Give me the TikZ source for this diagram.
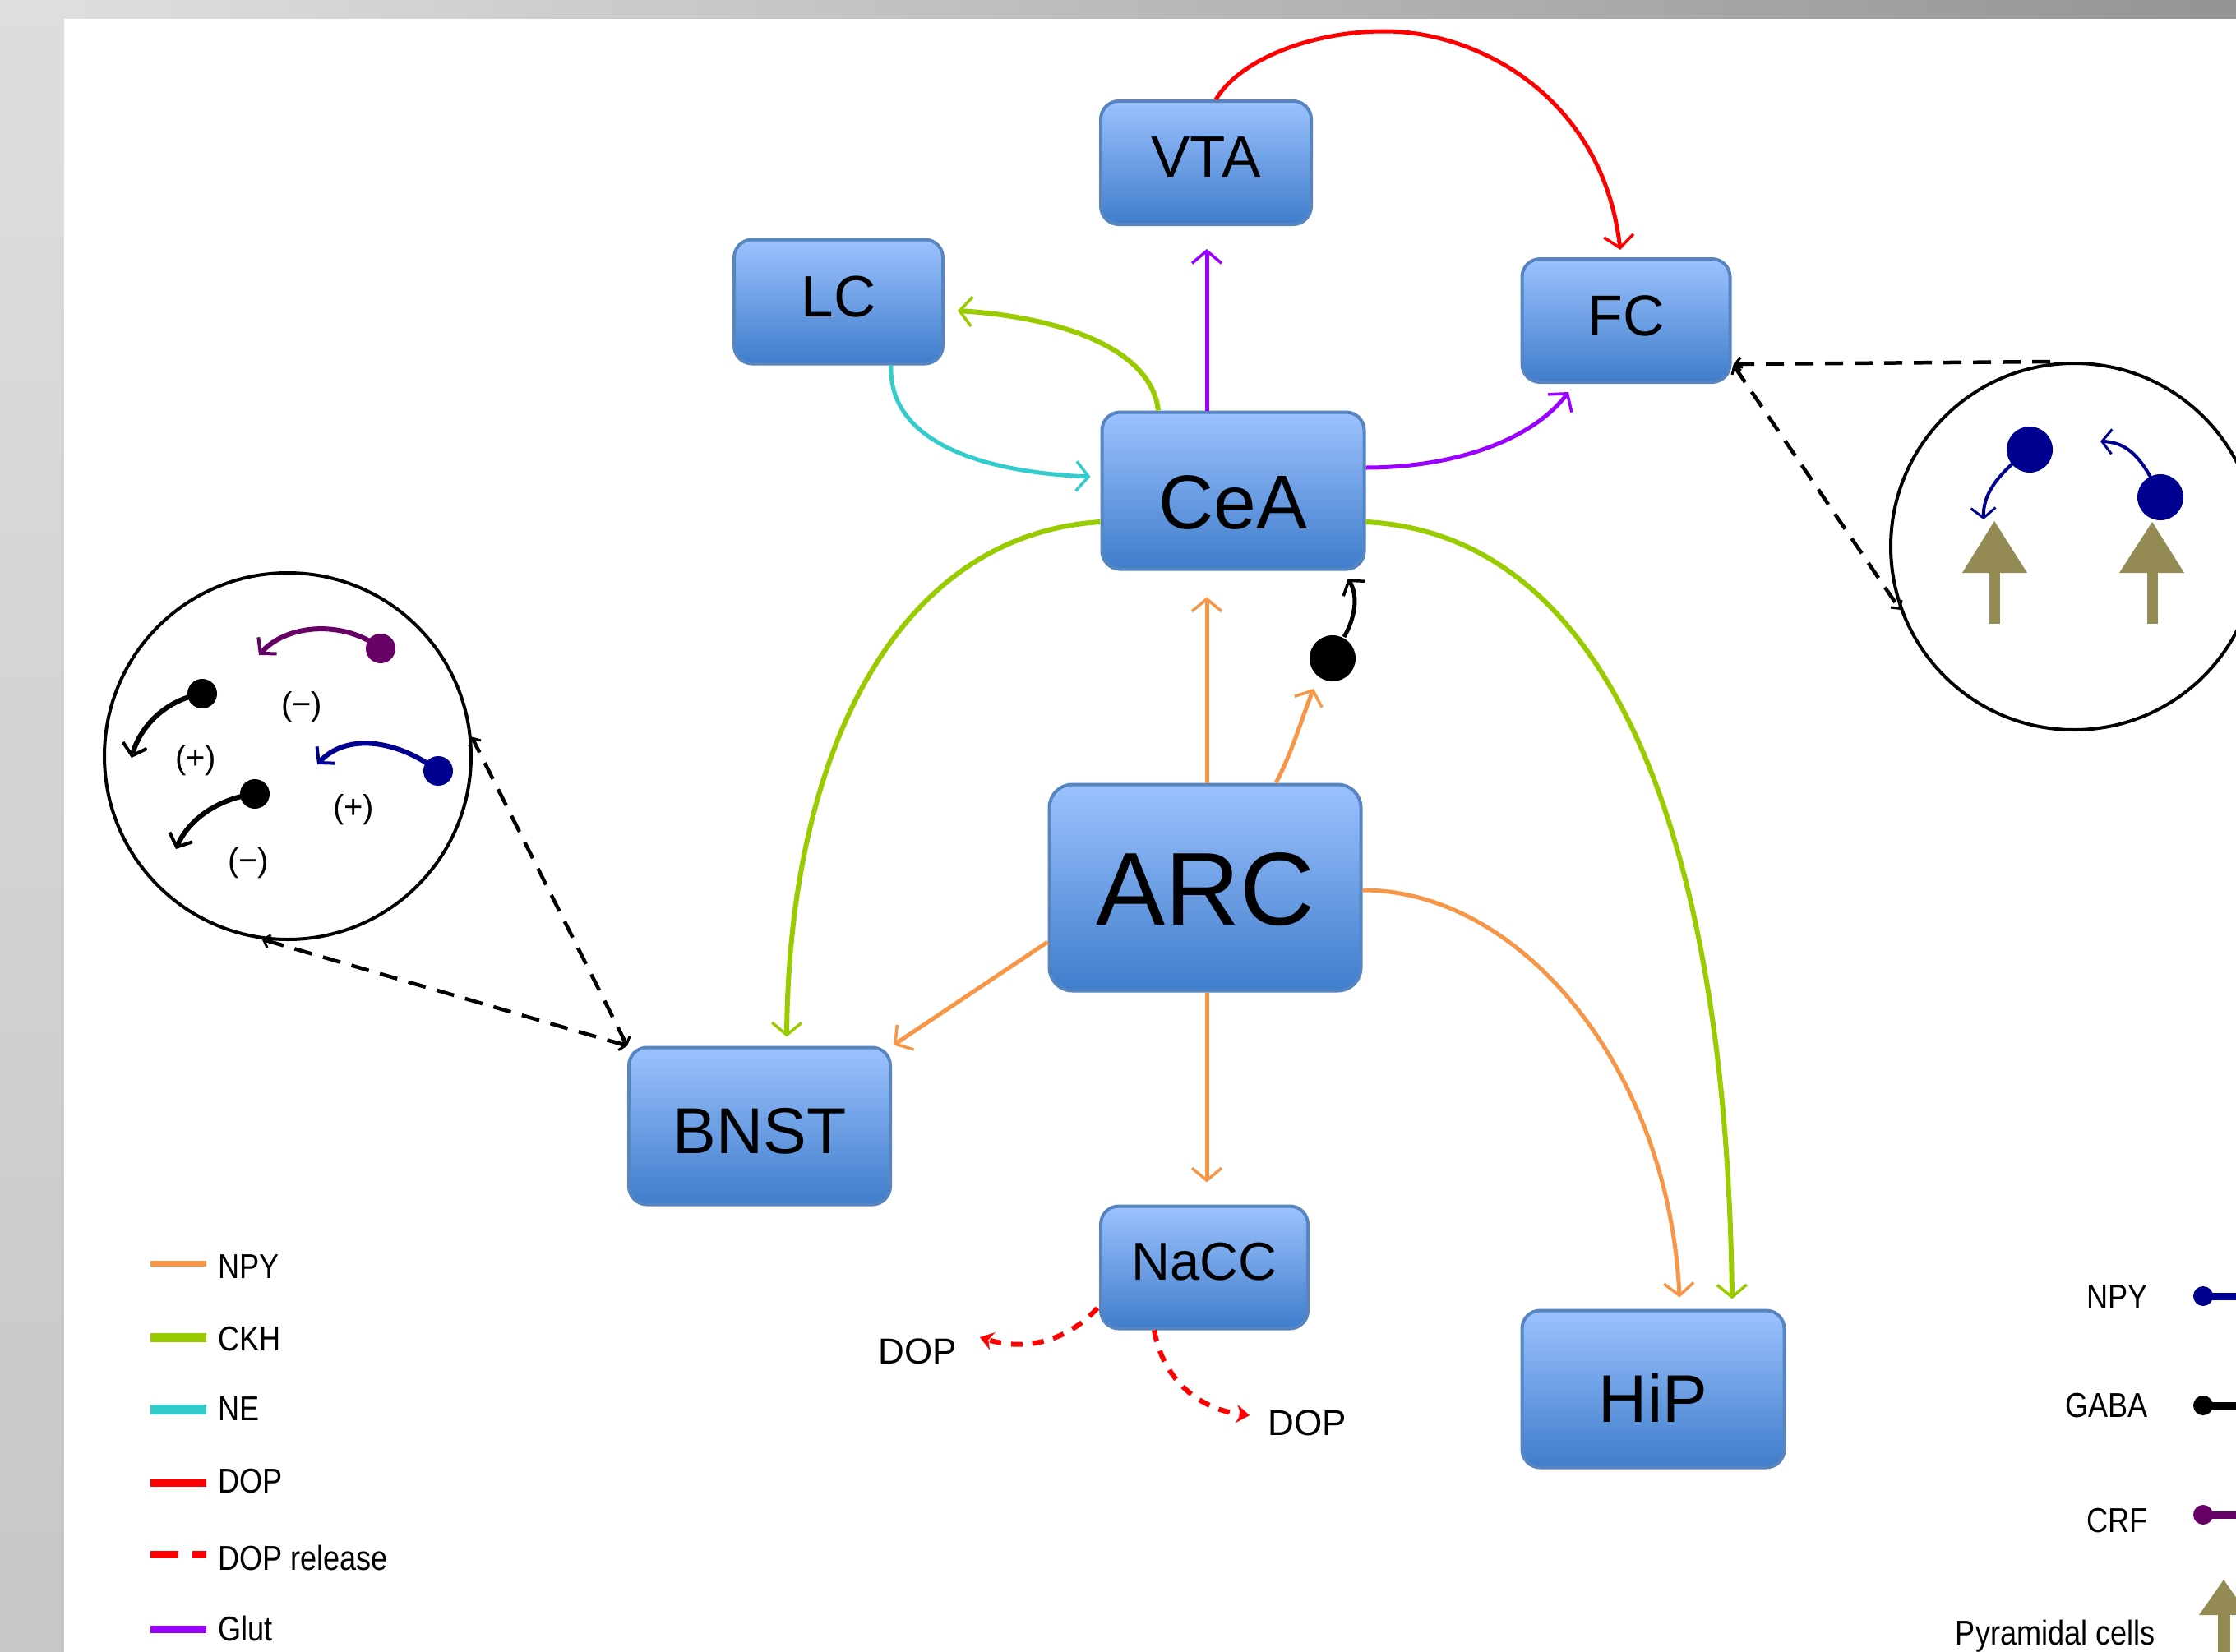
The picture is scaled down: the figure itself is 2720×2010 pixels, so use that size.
\documentclass[tikz,border=0pt]{standalone}
\usepackage{fontspec}
\setmainfont{Liberation Sans}
\newfontfamily\legfont[FakeStretch=0.86]{Liberation Sans}
\usetikzlibrary{arrows.meta,calc}
\definecolor{npycol}{HTML}{F79646}
\definecolor{ckhcol}{HTML}{99CC00}
\definecolor{necol}{HTML}{33CCCC}
\definecolor{dopcol}{HTML}{FF0000}
\definecolor{glutcol}{HTML}{9900FF}
\definecolor{npyblue}{HTML}{000090}
\definecolor{crfcol}{HTML}{660066}
\definecolor{pyrcol}{HTML}{948A54}
\definecolor{boxtop}{HTML}{9CC2FF}
\definecolor{boxbot}{HTML}{3F7DCB}
\definecolor{boxline}{HTML}{5685C2}
\newcommand\fsz[1]{\fontsize{#1}{#1}\selectfont}
\newcommand\lift[2]{\raisebox{#1}[\height][\depth]{#2}}
\begin{document}
\begin{tikzpicture}[x=1pt,y=-1pt,
  box/.style={draw=boxline, line width=4pt, rounded corners=22pt, top color=boxtop, bottom color=boxbot, inner sep=0pt, text=black},
  tipbig/.style={-{Straight Barb[length=15pt,width=36pt,line width=3.5pt]}},
  npyc/.style={draw=npycol, line width=5pt, tipbig},
  ckhc/.style={draw=ckhcol, line width=6pt, tipbig},
  nec/.style={draw=necol, line width=5pt, tipbig},
  dopc/.style={draw=dopcol, line width=5pt, tipbig},
  glutc/.style={draw=glutcol, line width=5pt, tipbig},
  gabac/.style={draw=black, line width=5pt, -{Straight Barb[length=12pt,width=32pt,line width=3.5pt]}},
  dopr/.style={draw=dopcol, line width=6pt, dash pattern=on 14pt off 12pt, -{Stealth[length=16pt,width=22pt]}},
  zoomln/.style={draw=black, line width=4.5pt, dash pattern=on 22pt off 14pt},
  smalltip/.style={{Straight Barb[length=7pt,width=16pt,line width=3pt]}-{Straight Barb[length=7pt,width=16pt,line width=3pt]}},
  mini/.style={line width=6pt, -{Straight Barb[length=13pt,width=30pt,line width=4pt]}},
  minir/.style={line width=4pt, draw=npyblue, -{Straight Barb[length=12pt,width=30pt,line width=3pt]}},
  dotn/.style={circle, inner sep=0pt, minimum size=36pt},
  leg/.style={inner sep=0pt, font=\legfont\fsz{42}},
  sign/.style={inner sep=0pt, font=\fsz{40}}]
\useasboundingbox (0,0) rectangle (2720,2010);
\clip (0,0) rectangle (2720,2010);
% background frame
\fill[left color=black!12, right color=black!42] (0,0) rectangle (2720,23);
\fill[top color=black!13, bottom color=black!22] (0,0) rectangle (78,2010);
\fill[white] (78,23) rectangle (2720,2010);

% boxes
\node[box, minimum width=256, minimum height=150, font=\fsz{71}] (VTA) at (1467,198) {\lift{7pt}{VTA}};
\node[box, minimum width=254, minimum height=151, font=\fsz{71}] (LC) at (1020,367) {\lift{6pt}{LC}};
\node[box, minimum width=253, minimum height=150, font=\fsz{70}] (FC) at (1978,390) {\lift{6pt}{FC}};
\node[box, minimum width=319, minimum height=191, font=\fsz{93}] (CeA) at (1500,597) {\lift{-14pt}{CeA}};
\node[box, minimum width=379, minimum height=251, rounded corners=28pt, font=\fsz{126}] (ARC) at (1466,1080) {\lift{-2pt}{ARC}};
\node[box, minimum width=318, minimum height=191, font=\fsz{79}] (BNST) at (924,1370) {\lift{-6pt}{BNST}};
\node[box, minimum width=252, minimum height=149, font=\fsz{65}] (NaCC) at (1465,1542) {\lift{7pt}{NaCC}};
\node[box, minimum width=319, minimum height=191, font=\fsz{82}] (HiP) at (2011,1690) {\lift{-11pt}{HiP}};

\node[circle, fill=black, inner sep=0pt, minimum size=56pt] (gdot) at (1621,801) {};
\node[inner sep=0pt, font=\fsz{44}] (DOPL) at (1116,1644) {DOP};
\node[inner sep=0pt, font=\fsz{44}] (DOPR) at (1590,1731) {DOP};

% connectors
\draw[dopc] ($(VTA.north)+(12,0)$) .. controls (1510,70) and (1600,38) .. (1684,38)
  .. controls (1800,38) and (1950,120) .. ($(FC.north)+(-7,-9)$);
\draw[glutc] ($(CeA.north)+(-32,0)$) -- ($(VTA.south)+(1,28)$);
\draw[ckhc] ($(CeA.north)+(-91,0)$) .. controls (1400,420) and (1280,385) .. ($(LC.east)+(16,11)$);
\draw[nec] ($(LC.south)+(64,0)$) .. controls (1080,540) and (1200,575) .. ($(CeA.west)+(-12,-17)$);
\draw[glutc] ($(CeA.east)+(0,-28)$) .. controls (1760,569) and (1860,540) .. ($(FC.south)+(-70,10)$);
\draw[ckhc] ($(CeA.west)+(0,38)$) .. controls (1100,650) and (960,900) .. ($(BNST.north)+(33,-11)$);
\draw[ckhc] ($(CeA.east)+(0,38)$) .. controls (1950,650) and (2100,1000) .. ($(HiP.north)+(96,-12)$);
\draw[npyc] ($(ARC.north)+(2,0)$) -- ($(CeA.south)+(-32,32)$);
\draw[npyc] ($(ARC.north)+(86,0)$) .. controls (1570,920) and (1585,870) .. ($(gdot)+(-23,37)$);
\draw[gabac] ($(gdot)+(14,-26)$) .. controls (1652,745) and (1650,720) .. ($(CeA.south east)+(-22,10)$);
\draw[npyc] ($(ARC.west)+(0,66)$) -- ($(BNST.north east)+(2,-1)$);
\draw[npyc] ($(ARC.south)+(2,0)$) -- ($(NaCC.north)+(3,-27)$);
\draw[npyc] ($(ARC.east)+(0,3)$) .. controls (1850,1083) and (2030,1300) .. ($(HiP.north)+(32,-14)$);
\draw[dopr] ($(NaCC.south west)+(-2,-27)$) .. controls (1300,1630) and (1250,1645) .. ($(DOPL.east)+(28,-17)$);
\draw[dopr] ($(NaCC.south)+(-61,0)$) .. controls (1415,1680) and (1460,1715) .. ($(DOPR.west)+(-22,-9)$);

% zoom circles
\node[draw, circle, line width=4pt, minimum size=446pt, inner sep=0pt] (zoomL) at (350,920) {};
\node[draw, circle, line width=4pt, minimum size=446pt, inner sep=0pt] (zoomR) at (2523,665) {};
\draw[zoomln, smalltip] (BNST.north west) -- (zoomL.6);
\draw[zoomln, smalltip] (BNST.north west) -- (zoomL.262);
\draw[zoomln, {Straight Barb[length=7pt,width=16pt,line width=3pt]}-] ($(FC.east)+(2,53)$) -- ($(zoomR.north)+(-20,0)$);
\draw[zoomln, smalltip] ($(FC.east)+(2,54)$) -- (zoomR.200);

% left circle content
\node[dotn, fill=crfcol] (c1) at (463,789) {};
\node[dotn, fill=black] (g1) at (246,844) {};
\node[dotn, fill=npyblue] (b1) at (533,938) {};
\node[dotn, fill=black] (g2) at (310,966) {};
\coordinate (t1) at (315,797);
\coordinate (t2) at (160,922);
\coordinate (t3) at (386,930);
\coordinate (t4) at (214,1033);
\draw[mini, draw=crfcol] (c1.center) .. controls (420,755) and (350,758) .. (t1);
\draw[mini, draw=black] (g1.center) .. controls (200,852) and (170,885) .. (t2);
\draw[mini, draw=npyblue] (b1.center) .. controls (480,898) and (420,893) .. (t3);
\draw[mini, draw=black] (g2.center) .. controls (262,972) and (228,1000) .. (t4);
\node[sign] (s1) at (367,860) {(−)};
\node[sign] (s2) at (238,925) {(+)};
\node[sign] (s3) at (430,985) {(+)};
\node[sign] (s4) at (302,1050) {(−)};

% right circle content
\node[circle, fill=npyblue, inner sep=0pt, minimum size=56pt] (rb1) at (2469,547) {};
\node[circle, fill=npyblue, inner sep=0pt, minimum size=56pt] (rb2) at (2628,605) {};
\coordinate (t5) at (2413,632);
\coordinate (t6) at (2555,537);
\draw[minir] (rb1.center) .. controls (2425,580) and (2412,605) .. (t5);
\draw[minir] (rb2.center) .. controls (2608,560) and (2590,538) .. (t6);
\fill[pyrcol] (2426,634) -- (2466,697) -- (2387,697) -- cycle;
\fill[pyrcol] (2420,696) rectangle (2433,759);
\fill[pyrcol] (2618,635) -- (2657,697) -- (2578,697) -- cycle;
\fill[pyrcol] (2612,696) rectangle (2625,759);

% left legend
\draw[npycol, line width=7pt] (183,1537) -- (251,1537);
\node[leg, anchor=base west] (lgNPY) at (265,1555) {NPY};
\draw[ckhcol, line width=11pt] (183,1627) -- (251,1627);
\node[leg, anchor=base west] (lgCKH) at (265,1643) {CKH};
\draw[necol, line width=12pt] (183,1715) -- (251,1715);
\node[leg, anchor=base west] (lgNE) at (265,1728) {NE};
\draw[dopcol, line width=9pt] (183,1804) -- (251,1804);
\node[leg, anchor=base west] (lgDOP) at (265,1816) {DOP};
\draw[dopcol, line width=9pt, dash pattern=on 34pt off 17pt] (183,1891) -- (251,1891);
\node[leg, anchor=base west] (lgDOPr) at (265,1910) {DOP release};
\draw[glutcol, line width=9pt] (183,1982) -- (251,1982);
\node[leg, anchor=base west] (lgGlut) at (265,1996) {Glut};

% right legend
\node[leg, anchor=base east] (rlNPY) at (2613,1592) {NPY};
\draw[npyblue, line width=9pt] (2680,1577) -- (2725,1577);
\fill[npyblue] (2680,1577) circle (12);
\node[leg, anchor=base east] (rlGABA) at (2613,1724) {GABA};
\draw[black, line width=9pt] (2680,1710) -- (2725,1710);
\fill[black] (2680,1710) circle (12);
\node[leg, anchor=base east] (rlCRF) at (2613,1864) {CRF};
\draw[crfcol, line width=9pt] (2680,1843) -- (2725,1843);
\fill[crfcol] (2680,1843) circle (12);
\node[leg, anchor=base east] (rlPyr) at (2622,2001) {Pyramidal cells};
\fill[pyrcol] (2705,1922) -- (2735,1965) -- (2675,1965) -- cycle;
\fill[pyrcol] (2698,1964) rectangle (2713,2015);
\end{tikzpicture}
\end{document}
